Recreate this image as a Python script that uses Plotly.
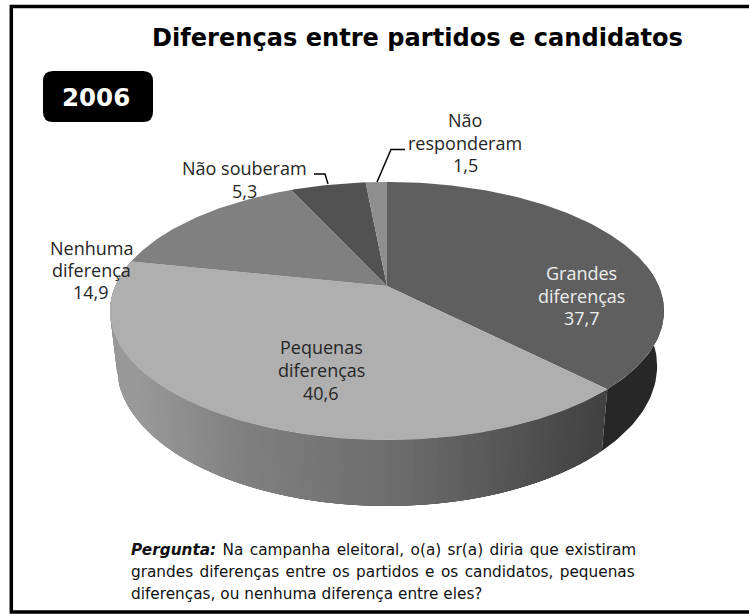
import numpy as np
import plotly.graph_objects as go

categories = ["Grandes diferenças", "Pequenas diferenças", "Nenhuma diferença", "Não souberam", "Não responderam"]
values = [37.7, 40.6, 14.9, 5.3, 1.5]
face_colors = ["#5f5f5f", "#afafaf", "#808080", "#525252", "#8e8e8e"]
grandes_wall = "#272727"
title = "Diferenças entre partidos e candidatos"
year = "2006"
HS = "\u200a"
footer = [("<b><i>Pergunta:</i></b> Na campanha eleitoral, o(a) sr(a) diria que existiram").replace(" ", " " + HS),
          "grandes diferenças entre os partidos e os candidatos, pequenas".replace(" ", " " + HS),
          "diferenças, ou nenhuma diferença entre eles?"]

P = 0.194
CX = 387


def rim(theta, c=271.7, y0=286.0, b=124.2):
    u, v = np.sin(theta), np.cos(theta)
    w = 1 + P * v
    return CX + c * u / w, y0 - b * v / w


def rim_low(theta):
    return rim(theta, c=265.0, y0=339.0, b=134.6)


def side_shade(x):
    return np.interp(x, [112, 130, 240, 400, 600], [0x98, 0x9a, 0x80, 0x6c, 0x42])


fig = go.Figure()
edges = np.deg2rad(np.concatenate([[0], np.cumsum(values)]) * 3.6)


def poly(xs, ys, color):
    fig.add_trace(go.Scatter(x=list(xs), y=list(ys), mode="lines", fill="toself", fillcolor=color,
                             line=dict(color=color, width=0), hoverinfo="skip", showlegend=False))


# outer wall: Grandes part
t = np.linspace(np.deg2rad(80), edges[1], 40)
xa, ya = rim(t)
xb, yb = rim_low(t)
poly(np.r_[xa, xb[::-1]], np.r_[ya, yb[::-1]], grandes_wall)

# outer wall: Pequenas part, painted strip over strip so that no seams show
t = np.linspace(edges[1], np.deg2rad(282), 141)
for i in range(len(t) - 1):
    s = t[i:min(i + 6, len(t))]
    xa, ya = rim(s)
    xb, yb = rim_low(s)
    g = int(round(side_shade((xa[0] + xa[1]) / 2)))
    poly(np.r_[xa, xb[::-1]], np.r_[ya, yb[::-1]], f"rgb({g},{g},{g})")

# top faces
for i in range(len(values)):
    t = np.linspace(edges[i], edges[i + 1], max(8, int(values[i] * 4)))
    xs, ys = rim(t)
    poly(np.r_[CX, xs], np.r_[286.0, ys], face_colors[i])

# leader lines
for lx, ly in [([314, 325, 328], [174, 174, 184]), ([405, 391, 377], [149.5, 149.5, 182])]:
    fig.add_trace(go.Scatter(x=lx, y=ly, mode="lines", line=dict(color="#000", width=1.5),
                             hoverinfo="skip", showlegend=False))

LF = "Open Sans"
notes = [
    (["Grandes", "diferenças", "37,7"], 581.5, [273, 296, 318], "#eeeeee"),
    (["Pequenas", "diferenças", "40,6"], 321, [347, 370, 393], "#262626"),
    (["Nenhuma", "diferença", "14,9"], 91, [248, 270, 292], "#262626"),
    (["Não souberam", "5,3"], 244.5, [168, 191], "#262626"),
    (["Não", "responderam", "1,5"], 465, [120, 143, 165], "#262626"),
]
anns = []
for lines, x, ys, c in notes:
    for s, y in zip(lines, ys):
        anns.append(dict(x=x, y=y, text=s, showarrow=False, xref="x", yref="y",
                         font=dict(family=LF, size=18, color=c)))
anns.append(dict(x=417.5, y=38, text="<b>" + title + "</b>", showarrow=False, xref="x", yref="y",
                 font=dict(family="DejaVu Sans", size=24.1, color="#000")))
anns.append(dict(x=96, y=97, text="<b>" + year + "</b>", showarrow=False, xref="x", yref="y",
                 font=dict(family="DejaVu Sans", size=24.5, color="#fff")))
for line, yy in zip(footer, [549.5, 571.5, 593.5]):
    anns.append(dict(x=129, y=yy, text=line, showarrow=False, xref="x", yref="y", xanchor="left",
                     font=dict(family="DejaVu Sans", size=15.3, color="#111")))

shapes = [
    dict(type="rect", x0=11.3, y0=6.5, x1=760, y1=612, line=dict(color="#000", width=3.5), xref="x", yref="y"),
    dict(type="path", xref="x", yref="y", fillcolor="#000", line=dict(color="#000", width=0),
         path="M53,71 L143,71 Q153,71 153,81 L153,112 Q153,122 143,122 L53,122 Q43,122 43,112 L43,81 Q43,71 53,71 Z"),
]

fig.update_layout(width=749, height=614, autosize=False, margin=dict(l=0, r=0, t=0, b=0),
                  paper_bgcolor="#fff", plot_bgcolor="#fff", showlegend=False,
                  xaxis=dict(range=[0, 749], visible=False, fixedrange=True),
                  yaxis=dict(range=[614, 0], visible=False, fixedrange=True),
                  annotations=anns, shapes=shapes)
fig.write_html("out.html", config=dict(displayModeBar=False),
               post_script="document.body.style.margin='0';document.documentElement.style.overflow='hidden';")
